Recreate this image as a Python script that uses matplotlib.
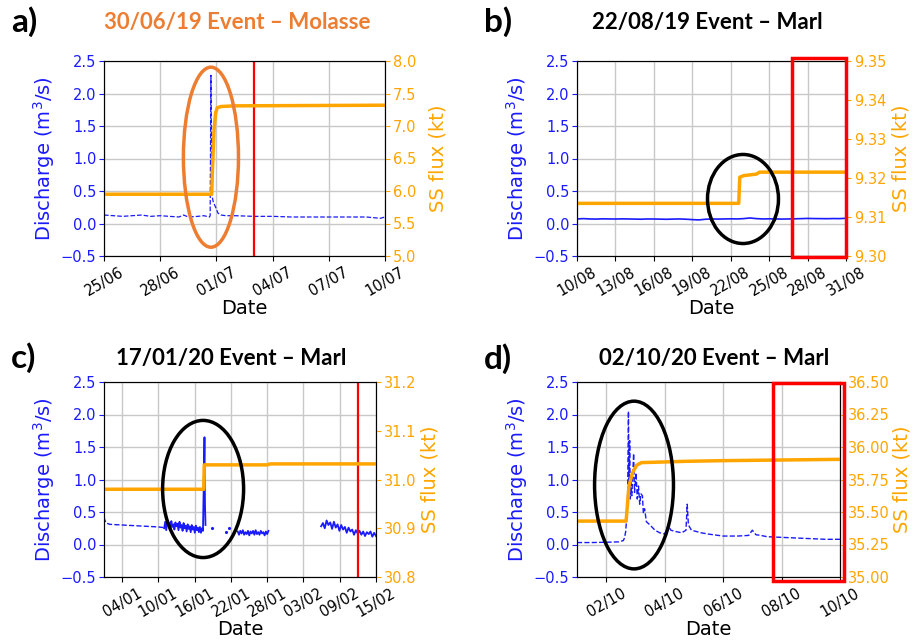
import numpy as np
import pandas as pd
import matplotlib
matplotlib.use("Agg")
import matplotlib.pyplot as plt
import matplotlib.dates as mdates
from matplotlib.patches import Ellipse, Rectangle

BLUE = "#1a1aff"
ORANGE = "#FFA500"
TITLE_FONT = "Lato"

# ---------------- panel a : 30/06/19 Molasse ----------------
a_q_time = ["2019-06-25 00:00", "2019-06-25 12:00", "2019-06-26 00:00", "2019-06-26 12:00",
            "2019-06-27 00:00", "2019-06-27 12:00", "2019-06-28 00:00", "2019-06-28 12:00",
            "2019-06-29 00:00", "2019-06-29 06:00", "2019-06-29 12:00", "2019-06-30 00:00",
            "2019-06-30 08:00", "2019-06-30 15:00", "2019-06-30 16:00", "2019-06-30 17:00",
            "2019-06-30 18:00", "2019-06-30 20:00", "2019-06-30 23:00", "2019-07-01 02:00",
            "2019-07-01 06:00", "2019-07-01 12:00", "2019-07-02 00:00", "2019-07-03 00:00",
            "2019-07-04 00:00", "2019-07-05 00:00", "2019-07-06 00:00", "2019-07-07 00:00",
            "2019-07-08 00:00", "2019-07-09 00:00", "2019-07-09 18:00", "2019-07-10 00:00"]
a_q_val = [0.13, 0.12, 0.11, 0.12, 0.13, 0.11, 0.12, 0.11, 0.10, 0.13, 0.10, 0.11,
           0.12, 0.10, 0.12, 2.28, 0.45, 0.33, 0.25, 0.16, 0.13, 0.12, 0.12, 0.11,
           0.11, 0.10, 0.10, 0.10, 0.10, 0.10, 0.08, 0.10]
a_ss_time = ["2019-06-25 00:00", "2019-06-30 18:00", "2019-06-30 19:00", "2019-06-30 21:00",
             "2019-06-30 23:00", "2019-07-01 01:00", "2019-07-01 06:00", "2019-07-02 00:00",
             "2019-07-10 00:00"]
a_ss_val = [5.95, 5.95, 6.35, 6.95, 7.20, 7.28, 7.30, 7.31, 7.32]

# ---------------- panel b : 22/08/19 Marl ----------------
b_q_start, b_q_end = "2019-08-10 00:00", "2019-08-31 00:00"
b_q_val = [0.070, 0.075, 0.070, 0.068, 0.072, 0.070, 0.069, 0.071, 0.070, 0.068, 0.066,
           0.070, 0.069, 0.067, 0.065, 0.068, 0.070, 0.066, 0.060, 0.055, 0.065, 0.070,
           0.068, 0.070, 0.072, 0.070, 0.075, 0.085, 0.075, 0.070, 0.072, 0.070, 0.068,
           0.070, 0.072, 0.075, 0.078, 0.076, 0.075, 0.074, 0.076, 0.075, 0.080]
b_ss_time = ["2019-08-10 00:00", "2019-08-22 15:00", "2019-08-22 17:00", "2019-08-23 00:00",
             "2019-08-23 12:00", "2019-08-24 00:00", "2019-08-24 06:00", "2019-08-31 00:00"]
b_ss_val = [9.3135, 9.3135, 9.3202, 9.3206, 9.3208, 9.3210, 9.3215, 9.3215]

# ---------------- panel c : 17/01/20 Marl ----------------
c_q0_time = ["2020-01-01 00:00", "2020-01-01 03:00", "2020-01-01 08:00", "2020-01-02 00:00",
             "2020-01-04 00:00", "2020-01-06 00:00", "2020-01-08 00:00", "2020-01-10 00:00",
             "2020-01-10 22:00"]
c_q0_val = [0.42, 0.38, 0.33, 0.31, 0.30, 0.29, 0.28, 0.27, 0.26]
c_band1 = ("2020-01-10 23:00", "2020-01-17 09:00")
c_band1_val = [0.25, 0.35, 0.22, 0.37, 0.29, 0.33, 0.24, 0.36, 0.27, 0.31, 0.23, 0.34, 0.28,
               0.32, 0.22, 0.35, 0.26, 0.30, 0.21, 0.33, 0.25, 0.29, 0.20, 0.31, 0.24, 0.28,
               0.19, 0.30, 0.23, 0.27, 0.18, 0.29, 0.22, 0.26, 0.19, 0.27, 0.18, 0.25, 0.21]
c_spike_time = ["2020-01-17 09:00", "2020-01-17 15:00", "2020-01-17 17:00", "2020-01-17 19:00"]
c_spike_val = [0.21, 1.65, 0.60, 0.30]
c_dots_time = ["2020-01-18 22:00", "2020-01-21 03:00", "2020-01-21 16:00"]
c_dots_val = [0.25, 0.20, 0.25]
c_band2 = ("2020-01-23 03:00", "2020-01-28 05:00")
c_band2_val = [0.20, 0.15, 0.21, 0.17, 0.22, 0.15, 0.19, 0.16, 0.21, 0.14, 0.20, 0.17, 0.21,
               0.15, 0.22, 0.16, 0.19, 0.15, 0.21, 0.17, 0.19, 0.14, 0.20, 0.16, 0.21]
c_band3 = ("2020-02-05 22:00", "2020-02-15 00:00")
c_band3_val = [0.28, 0.33, 0.25, 0.37, 0.30, 0.34, 0.24, 0.35, 0.26, 0.31, 0.21, 0.30, 0.23,
               0.27, 0.18, 0.26, 0.20, 0.23, 0.15, 0.22, 0.17, 0.21, 0.15, 0.20, 0.13, 0.19,
               0.16, 0.20, 0.12, 0.18, 0.13]
c_ss_time = ["2020-01-01 00:00", "2020-01-17 12:00", "2020-01-17 14:00", "2020-01-28 00:00",
             "2020-01-28 12:00", "2020-02-15 00:00"]
c_ss_val = [30.98, 30.98, 31.030, 31.030, 31.032, 31.032]

# ---------------- panel d : 02/10/20 Marl ----------------
d_q_time = ["2020-10-01 00:00", "2020-10-01 12:00", "2020-10-02 00:00", "2020-10-02 10:00",
            "2020-10-02 14:00", "2020-10-02 15:00", "2020-10-02 16:00", "2020-10-02 17:30",
            "2020-10-02 18:15", "2020-10-02 18:45", "2020-10-02 19:15", "2020-10-02 19:45",
            "2020-10-02 20:15", "2020-10-02 21:00", "2020-10-02 21:45", "2020-10-02 22:30",
            "2020-10-02 23:15", "2020-10-03 00:30", "2020-10-03 01:30", "2020-10-03 02:30",
            "2020-10-03 03:30", "2020-10-03 04:30", "2020-10-03 05:45", "2020-10-03 06:30",
            "2020-10-03 07:30", "2020-10-03 09:00", "2020-10-03 12:00", "2020-10-03 16:00",
            "2020-10-03 20:00", "2020-10-04 00:00", "2020-10-04 03:00", "2020-10-04 05:00",
            "2020-10-04 09:00", "2020-10-04 14:00", "2020-10-04 17:30", "2020-10-04 18:30",
            "2020-10-04 19:30", "2020-10-04 22:00", "2020-10-05 06:00", "2020-10-05 12:00",
            "2020-10-06 00:00", "2020-10-06 12:00", "2020-10-06 21:00", "2020-10-07 00:00",
            "2020-10-07 03:00", "2020-10-07 07:00", "2020-10-07 12:00", "2020-10-08 00:00",
            "2020-10-08 12:00", "2020-10-09 00:00", "2020-10-09 12:00", "2020-10-10 00:00"]
d_q_val = [0.03, 0.03, 0.035, 0.04, 0.06, 0.10, 0.20, 0.60, 2.05, 0.90, 1.60, 0.70,
           1.00, 0.75, 1.05, 1.40, 0.80, 1.10, 0.70, 0.90, 0.62, 0.78, 0.75, 0.48,
           0.55, 0.35, 0.30, 0.22, 0.18, 0.16, 0.30, 0.22, 0.20, 0.18, 0.22, 0.62,
           0.30, 0.22, 0.18, 0.16, 0.13, 0.13, 0.14, 0.22, 0.15, 0.14, 0.12, 0.11,
           0.10, 0.09, 0.08, 0.08]
d_ss_time = ["2020-10-01 00:00", "2020-10-02 16:20", "2020-10-02 18:40", "2020-10-02 21:30",
             "2020-10-03 01:00", "2020-10-03 05:00", "2020-10-04 00:00", "2020-10-04 18:00",
             "2020-10-06 00:00", "2020-10-10 00:00"]
d_ss_val = [35.43, 35.43, 35.70, 35.80, 35.86, 35.88, 35.885, 35.89, 35.895, 35.905]

W, H = 913, 641
fig = plt.figure(figsize=(W / 100, H / 100), dpi=100)


def rect(l, t, r, b):
    return [l / W, 1 - b / H, (r - l) / W, (b - t) / H]


def setup(ax1, ax2, xlim, ticks, ss_lim, ss_ticks, ss_fmt, rpad):
    ax1.set_xlim(pd.Timestamp(xlim[0]), pd.Timestamp(xlim[1]))
    ax1.set_ylim(-0.5, 2.5)
    ax1.set_yticks([-0.5, 0.0, 0.5, 1.0, 1.5, 2.0, 2.5])
    ax1.set_xticks(pd.to_datetime(ticks))
    ax1.xaxis.set_major_formatter(mdates.DateFormatter("%d/%m"))
    for lab in ax1.get_xticklabels():
        lab.set_rotation(30)
        lab.set_ha("center")
    ax1.tick_params(axis="x", labelsize=10.5, pad=3)
    ax1.tick_params(axis="y", colors=BLUE, labelsize=10.5, pad=2)
    ax1.grid(True, color="#c8c8c8", lw=1)
    ax1.set_axisbelow(True)
    ax1.set_xlabel("Date", fontsize=14, labelpad=0)
    ax1.set_ylabel("Discharge (m$^3$/s)", fontsize=14, color=BLUE, labelpad=3)
    ax2.set_ylim(*ss_lim)
    ax2.set_yticks(ss_ticks)
    ax2.yaxis.set_major_formatter(plt.FormatStrFormatter(ss_fmt))
    ax2.tick_params(axis="y", colors=ORANGE, labelsize=10.5, pad=2)
    ax2.set_ylabel("SS flux (kt)", fontsize=14, color=ORANGE, labelpad=rpad)
    for sp in ax1.spines.values():
        sp.set_color("#333333")


def panel_text(x_lab, y_lab, lab, x_title, title, tcolor):
    fig.text(x_lab / W, 1 - y_lab / H, lab, fontsize=24, fontweight="bold",
             family=TITLE_FONT, ha="left", va="center")
    fig.text(x_title / W, 1 - y_lab / H, title, fontsize=16, fontweight="bold",
             family=TITLE_FONT, color=tcolor, ha="center", va="center")


def ellipse(ax1, ax2, x, y, w, h, color):
    xc = mdates.date2num(pd.Timestamp(x))
    e = Ellipse((xc, y), w, h, transform=ax1.transData, fill=False,
                edgecolor=color, lw=2.5, zorder=5)
    ax2.add_patch(e)


# ---- a ----
ax1 = fig.add_axes(rect(104, 61, 385, 256))
ax2 = ax1.twinx()
ax1.plot(pd.to_datetime(a_q_time), a_q_val, color=BLUE, lw=0.9, ls="--")
ax1.axvline(pd.Timestamp("2019-07-03 00:00"), color="red", lw=1.6)
ax2.plot(pd.to_datetime(a_ss_time), a_ss_val, color=ORANGE, lw=2.5)
setup(ax1, ax2, ("2019-06-25", "2019-07-10"),
      ["2019-06-25", "2019-06-28", "2019-07-01", "2019-07-04", "2019-07-07", "2019-07-10"],
      (5.0, 8.0), [5.0, 5.5, 6.0, 6.5, 7.0, 7.5, 8.0], "%.1f", 9)
ellipse(ax1, ax2, "2019-06-30 17:00", 1.02, 2.94, 2.77, "#ED7D31")
panel_text(11, 22, "a)", 237, "30/06/19 Event – Molasse", "#ED7D31")

# ---- b ----
ax1 = fig.add_axes(rect(577, 61, 846, 256))
ax2 = ax1.twinx()
ax1.plot(pd.date_range(b_q_start, b_q_end, periods=len(b_q_val)), b_q_val, color=BLUE, lw=1.2)
ax2.plot(pd.to_datetime(b_ss_time), b_ss_val, color=ORANGE, lw=2.5)
setup(ax1, ax2, ("2019-08-10", "2019-08-31"),
      ["2019-08-10", "2019-08-13", "2019-08-16", "2019-08-19", "2019-08-22", "2019-08-25",
       "2019-08-28", "2019-08-31"],
      (9.30, 9.35), [9.30, 9.31, 9.32, 9.33, 9.34, 9.35], "%.2f", 4)
ellipse(ax1, ax2, "2019-08-22 23:00", 0.377, 5.54, 1.37, "black")
ax2.add_patch(Rectangle((0.80, -0.005), 0.20, 1.02, transform=ax2.transAxes, fill=False,
                        edgecolor="red", lw=2.5, clip_on=False, zorder=6))
panel_text(484, 22, "b)", 707, "22/08/19 Event – Marl", "black")

# ---- c ----
ax1 = fig.add_axes(rect(104, 382, 376, 577))
ax2 = ax1.twinx()
ax1.plot(pd.to_datetime(c_q0_time), c_q0_val, color=BLUE, lw=1, ls="--")
c_time = list(pd.date_range(*c_band1, periods=len(c_band1_val))) \
    + list(pd.to_datetime(c_spike_time)) + [pd.Timestamp("2020-01-20")] \
    + list(pd.date_range(*c_band2, periods=len(c_band2_val))) + [pd.Timestamp("2020-02-01")] \
    + list(pd.date_range(*c_band3, periods=len(c_band3_val)))
c_val = c_band1_val + c_spike_val + [np.nan] + c_band2_val + [np.nan] + c_band3_val
ax1.plot(c_time, c_val, color=BLUE, lw=1.3)
ax1.plot(pd.to_datetime(c_dots_time), c_dots_val, color=BLUE, ls="none", marker=".", ms=2.5)
ax1.axvline(pd.Timestamp("2020-02-12 00:00"), color="red", lw=1.6)
ax2.plot(pd.to_datetime(c_ss_time), c_ss_val, color=ORANGE, lw=2.5)
setup(ax1, ax2, ("2020-01-01", "2020-02-15"),
      ["2020-01-04", "2020-01-10", "2020-01-16", "2020-01-22", "2020-01-28", "2020-02-03",
       "2020-02-09", "2020-02-15"],
      (30.8, 31.2), [30.8, 30.9, 31.0, 31.1, 31.2], "%.1f", 3)
ellipse(ax1, ax2, "2020-01-17 09:30", 0.854, 13.4, 2.11, "black")
panel_text(11, 358, "c)", 231, "17/01/20 Event – Marl", "black")

# ---- d ----
ax1 = fig.add_axes(rect(577, 382, 840, 577))
ax2 = ax1.twinx()
ax1.plot(pd.to_datetime(d_q_time), d_q_val, color=BLUE, lw=1, ls="--")
ax2.plot(pd.to_datetime(d_ss_time), d_ss_val, color=ORANGE, lw=2.5)
setup(ax1, ax2, ("2020-10-01", "2020-10-10"),
      ["2020-10-02", "2020-10-04", "2020-10-06", "2020-10-08", "2020-10-10"],
      (35.0, 36.5), [35.0, 35.25, 35.5, 35.75, 36.0, 36.25, 36.5], "%.2f", 2)
ellipse(ax1, ax2, "2020-10-02 22:50", 0.915, 2.7, 2.58, "black")
ax2.add_patch(Rectangle((0.745, -0.02), 0.27, 1.015, transform=ax2.transAxes, fill=False,
                        edgecolor="red", lw=2.5, clip_on=False, zorder=6))
panel_text(484, 359, "d)", 714, "02/10/20 Event – Marl", "black")

fig.savefig("out.png", dpi=100)
